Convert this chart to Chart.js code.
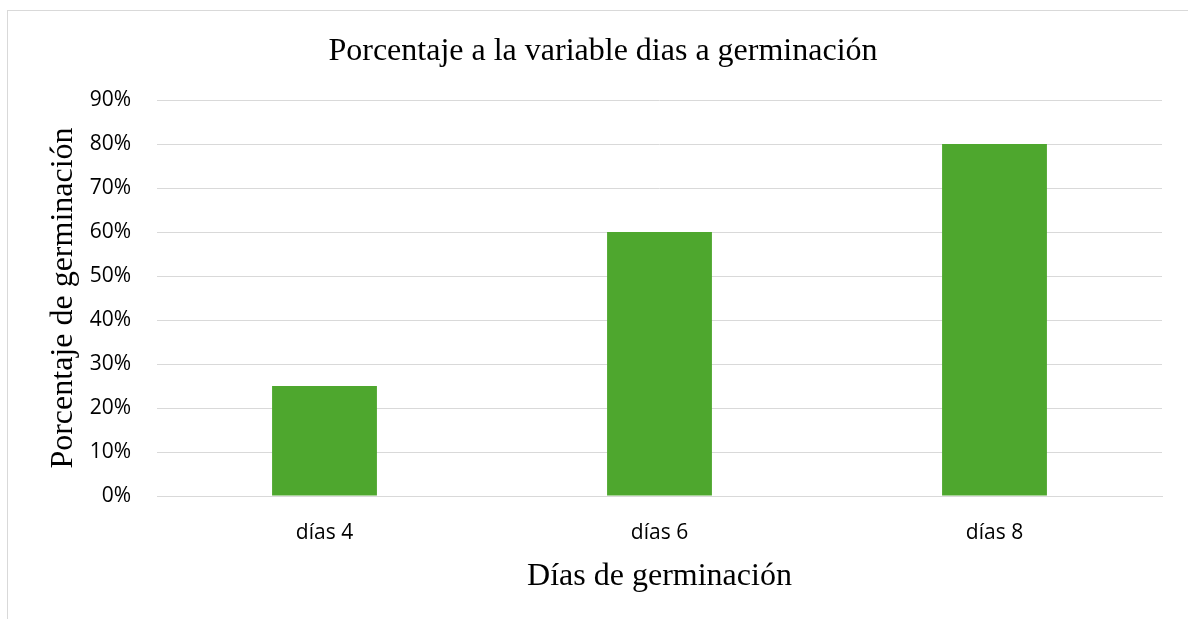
<!DOCTYPE html>
<html>
<head>
<meta charset="utf-8">
<script src="https://cdn.jsdelivr.net/npm/chart.js@4"></script>
<style>
  html, body { margin: 0; padding: 0; background: #fff; overflow: hidden; }
  #frame { position: absolute; left: 7px; top: 10px; width: 1300px; height: 700px; border: 1px solid #d9d9d9; }
  #chart { position: absolute; left: 0; top: 0; }
</style>
</head>
<body>
<div id="frame"></div>
<canvas id="chart" width="1188" height="619"></canvas>
<script>
const categories = ["días 4", "días 6", "días 8"];
const germinacion = [25, 60, 80];
const yTicks = [0, 10, 20, 30, 40, 50, 60, 70, 80, 90];

const ctx = document.getElementById('chart').getContext('2d');
const serif = "'Liberation Serif', 'Times New Roman', serif";
const sans = "'Open Sans', Lato, sans-serif";

new Chart(ctx, {
    type: 'bar',
    data: {
        labels: categories,
        datasets: [{
            label: 'Porcentaje de germinación',
            data: germinacion,
            backgroundColor: '#4ea72e',
            barPercentage: 0.313,
            categoryPercentage: 1
        }]
    },
    options: {
        responsive: false,
        animation: false,
        layout: { padding: { left: 44, right: 26, top: 20, bottom: 23 } },
        plugins: {
            legend: { display: false },
            tooltip: { enabled: false },
            title: {
                display: true,
                text: 'Porcentaje a la variable dias a germinación',
                color: '#000',
                font: { family: serif, size: 32, weight: 'normal', lineHeight: 1.2 },
                padding: { top: 12.8, bottom: 28.8 }
            }
        },
        scales: {
            x: {
                grid: { display: false, drawTicks: false },
                border: { display: true, color: '#d9d9d9', width: 1 },
                ticks: { color: '#000', font: { family: sans, size: 21 }, padding: 24 },
                title: {
                    display: true,
                    text: 'Días de germinación',
                    color: '#000',
                    font: { family: serif, size: 32, lineHeight: 1.2 },
                    padding: 0
                },
                afterFit: function (scale) { scale.height = 100; }
            },
            y: {
                min: 0,
                max: 90,
                afterBuildTicks: function (scale) {
                    scale.ticks = yTicks.map(v => ({ value: v }));
                },
                grid: { color: '#d9d9d9', drawTicks: false },
                border: { display: false },
                ticks: {
                    color: '#000',
                    font: { family: sans, size: 21 },
                    padding: 26,
                    callback: v => v + '%'
                },
                title: {
                    display: true,
                    text: 'Porcentaje de germinación',
                    color: '#000',
                    font: { family: serif, size: 32, lineHeight: 1.2 },
                    padding: 0
                },
                afterFit: function (scale) { scale.width = 113; }
            }
        }
    }
});
</script>
</body>
</html>
